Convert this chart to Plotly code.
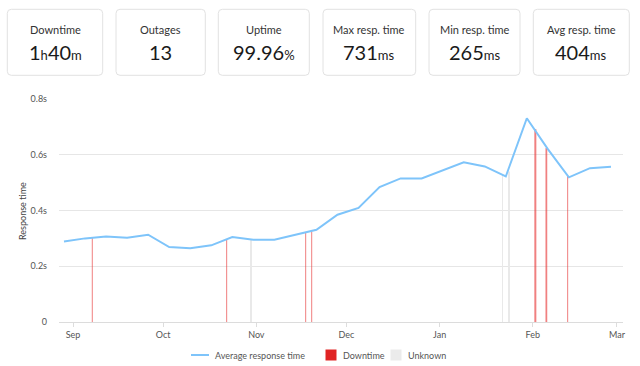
import plotly.graph_objects as go
import pandas as pd

# ---------------- data ----------------
week_start = "2022-08-29"
avg_response_s = [0.289, 0.300, 0.307, 0.302, 0.313, 0.269, 0.265, 0.275, 0.305,
                  0.295, 0.295, 0.313, 0.331, 0.385, 0.409, 0.484, 0.515, 0.515,
                  0.544, 0.573, 0.558, 0.522, 0.731, 0.620, 0.519, 0.552, 0.557]
week_dates = list(pd.date_range(week_start, periods=len(avg_response_s), freq="7D"))

downtime_dates = ["2022-09-07 10:00", "2022-10-22 03:00", "2022-11-17 10:00",
                  "2022-11-19 10:00", "2023-02-01 20:00", "2023-02-05 12:00",
                  "2023-02-12 14:00"]
downtime_heights = [0.302, 0.295, 0.319, 0.325, 0.692, 0.624, 0.525]
downtime_hours = [8, 8, 8, 8, 16, 14, 8]

unknown_dates = ["2022-10-30 03:00", "2023-01-21 22:00", "2023-01-24 02:00"]
unknown_heights = [0.295, 0.528, 0.540]
unknown_hours = [5, 6, 6]

y_tickvals = [0, 0.2, 0.4, 0.6, 0.8]
y_ticktext = ["0", "0.2s", "0.4s", "0.6s", "0.8s"]

card_labels = ["Downtime", "Outages", "Uptime", "Max resp. time", "Min resp. time", "Avg resp. time"]
card_values = [[("1", "big"), ("h", "unit"), ("40", "big"), ("m", "unit")],
               [("13", "big")],
               [("99.96", "big"), ("%", "unit")],
               [("731", "big"), ("ms", "unit")],
               [("265", "big"), ("ms", "unit")],
               [("404", "big"), ("ms", "unit")]]

legend_items = ["Average response time", "Downtime", "Unknown"]

# ---------------- style / layout ----------------
W, H = 640, 366
ML, MR, MT, MB = 59, 17, 99, 44
PW, PH = W - ML - MR, H - MT - MB
FONT = "Lato"
LINE_COLOR = "#7ec4fa"
RED = "#e02424"
GREY = "#ebebeb"


def xp(px):
    return (px - ML) / PW


def yp(py):
    return (H - MB - py) / PH


fig = go.Figure()

ms_per_hour = 3600 * 1000
fig.add_trace(go.Bar(x=unknown_dates, y=unknown_heights,
                     width=[h * ms_per_hour for h in unknown_hours],
                     marker=dict(color="#e9e9e9", line=dict(width=0)),
                     name="Unknown", hoverinfo="skip"))
fig.add_trace(go.Bar(x=downtime_dates, y=downtime_heights,
                     width=[h * ms_per_hour for h in downtime_hours],
                     marker=dict(color="rgba(230,50,50,0.62)", line=dict(width=0)),
                     name="Downtime", hoverinfo="skip"))
fig.add_trace(go.Scatter(x=week_dates, y=avg_response_s, mode="lines",
                         line=dict(color=LINE_COLOR, width=2),
                         name="Average response time"))

shapes = []
annotations = []

# cards
card_boxes = [(7.3, 102.7), (116, 205.3), (218.3, 309.3), (323, 415.7), (429, 520), (533.3, 629.3)]
cy0, cy1 = 9.3, 75.3
r = 4
for (x0, x1), label, parts in zip(card_boxes, card_labels, card_values):
    X0, X1 = xp(x0), xp(x1)
    Y0, Y1 = yp(cy1), yp(cy0)
    rx, ry = r / PW, r / PH
    path = (f"M{X0+rx},{Y0} L{X1-rx},{Y0} Q{X1},{Y0} {X1},{Y0+ry} "
            f"L{X1},{Y1-ry} Q{X1},{Y1} {X1-rx},{Y1} L{X0+rx},{Y1} "
            f"Q{X0},{Y1} {X0},{Y1-ry} L{X0},{Y0+ry} Q{X0},{Y0} {X0+rx},{Y0} Z")
    shapes.append(dict(type="path", xref="paper", yref="paper", path=path,
                       line=dict(color="#e2e2e2", width=1), fillcolor="white", layer="below"))
    cx = xp((x0 + x1) / 2)
    annotations.append(dict(x=cx, y=yp(29), xref="paper", yref="paper", text=label,
                            showarrow=False, xanchor="center", yanchor="middle",
                            font=dict(family=FONT, size=11, color="#333333")))
    txt = ""
    for s, kind in parts:
        if kind == "big":
            txt += s
        else:
            txt += f"<span style='font-size:13px'>{s}</span>"
    annotations.append(dict(x=cx, y=yp(52.5), xref="paper", yref="paper", text=txt,
                            showarrow=False, xanchor="center", yanchor="middle",
                            font=dict(family=FONT, size=20, color="#1a1a1a")))

# manual legend
LY = 355
shapes.append(dict(type="line", xref="paper", yref="paper", x0=xp(191), x1=xp(209),
                   y0=yp(LY), y1=yp(LY), line=dict(color=LINE_COLOR, width=2)))
shapes.append(dict(type="rect", xref="paper", yref="paper", x0=xp(325.5), x1=xp(336.5),
                   y0=yp(LY + 5.5), y1=yp(LY - 5.5), line=dict(width=0), fillcolor=RED))
shapes.append(dict(type="rect", xref="paper", yref="paper", x0=xp(390.5), x1=xp(401.5),
                   y0=yp(LY + 5.5), y1=yp(LY - 5.5), line=dict(width=0), fillcolor=GREY))
for text, lx in zip(legend_items, [213, 340.5, 405.5]):
    annotations.append(dict(x=xp(lx), y=yp(LY), xref="paper", yref="paper", text=text,
                            showarrow=False, xanchor="left", yanchor="middle",
                            font=dict(family=FONT, size=9, color="#555555")))

# y-axis title
annotations.append(dict(x=xp(22), y=yp(211), xref="paper", yref="paper", text="Response time",
                        showarrow=False, textangle=-90, xanchor="center", yanchor="middle",
                        font=dict(family=FONT, size=9, color="#444444")))

fig.update_layout(
    width=W, height=H,
    margin=dict(l=ML, r=MR, t=MT, b=MB, pad=0),
    paper_bgcolor="white", plot_bgcolor="white",
    barmode="overlay",
    showlegend=False,
    font=dict(family=FONT, size=9, color="#555555"),
    shapes=shapes, annotations=annotations,
    xaxis=dict(type="date", range=["2022-08-27 08:12", "2023-03-03 00:00"],
               tick0="2022-09-01", dtick="M1", tickformat="%b",
               showgrid=False, zeroline=False, showline=False,
               ticks="outside", ticklen=4, tickcolor="#dddddd", tickwidth=1,
               tickfont=dict(family=FONT, size=9, color="#555555")),
    yaxis=dict(range=[0, 0.8], tickvals=y_tickvals, ticktext=y_ticktext,
               showgrid=True, gridcolor="#e6e6e6", gridwidth=1,
               zeroline=True, zerolinecolor="#dcdcdc", zerolinewidth=1,
               showline=False, ticks="", ticklabelstandoff=11,
               tickfont=dict(family=FONT, size=9, color="#555555")),
)

fig.write_html("out.html", config={"displayModeBar": False},
               post_script="document.body.style.margin='0';document.body.style.overflow='hidden';")
